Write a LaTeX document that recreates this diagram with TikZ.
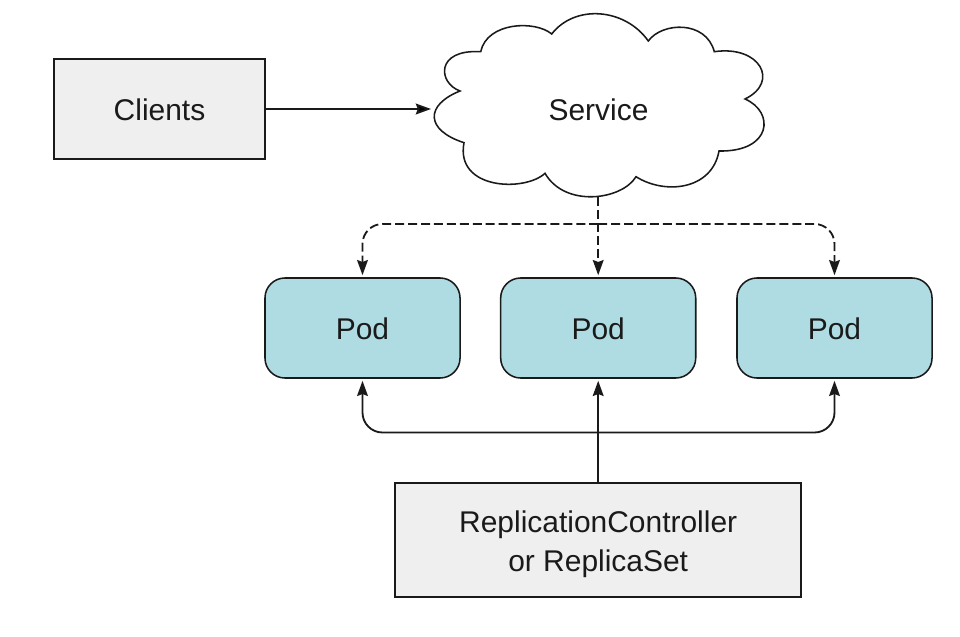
\documentclass[tikz,border=0pt]{standalone}
\usepackage{fontspec}
\setmainfont{Liberation Sans}
\usetikzlibrary{arrows.meta}
\definecolor{boxgray}{HTML}{EFEFEF}
\definecolor{podblue}{HTML}{AEDCE2}
\definecolor{inkblack}{HTML}{1A1A1A}
\tikzset{
    label text/.style={text=inkblack, font=\fontsize{21.3}{27.7}\selectfont, inner sep=0pt, align=center},
    gray box/.style={label text, draw=inkblack, line width=1.1pt, fill=boxgray},
    pod box/.style={label text, draw=inkblack, line width=1.1pt, fill=podblue, rounded corners=0.5cm, minimum width=4.875cm, minimum height=2.5cm, text height=17pt},
    flow/.style={draw=inkblack, line width=1.3pt, -{Stealth[length=3.8mm, width=2.7mm, inset=0.5mm]}, shorten >=0.05cm},
    dash flow/.style={flow, dash pattern=on 6.4pt off 2.8pt},
}
\begin{document}
\begin{tikzpicture}[x=0.025cm, y=-0.025cm]
    \useasboundingbox (0, 0) rectangle (960, 637);

    \draw[draw=inkblack, line width=1.1pt, fill=white, line join=miter]
        (460, 91) .. controls (438, 83) and (435, 49) .. (480.7, 51.7)
        .. controls (487, 22) and (535, 20) .. (551.7, 34)
        .. controls (575, 4) and (625, 8) .. (648.3, 41)
        .. controls (662, 22) and (706, 20) .. (714.3, 51.7)
        .. controls (760, 45) and (780, 82) .. (745, 99)
        .. controls (775, 112) and (772, 152) .. (719, 151)
        .. controls (712, 190) and (665, 195) .. (636, 176.7)
        .. controls (622, 200) and (565, 208) .. (545, 173.3)
        .. controls (525, 192) and (455, 190) .. (464, 142.7)
        .. controls (425, 130) and (425, 105) .. (460, 91) -- cycle;

    \node[label text] (service) at (598.5, 110) {Service};
    \coordinate (cloudwest) at (433, 109);
    \coordinate (cloudsouth) at (598.2, 197);

    \node[gray box, minimum width=5.275cm, minimum height=2.5cm, text height=17pt] (clients) at (159.5, 109) {Clients};

    \node[pod box] (pod1) at (362.5, 328) {Pod};
    \node[pod box] (pod2) at (598.2, 328) {Pod};
    \node[pod box] (pod3) at (834.5, 328) {Pod};

    \node[gray box, minimum width=10.15cm, minimum height=2.85cm] (rc) at (598.2, 540) {\rule{0pt}{21.2pt}ReplicationController\\or ReplicaSet};

    \coordinate (dashbus) at (598.2, 224);
    \coordinate (rcbus) at (598.2, 432.5);

    \draw[flow] (clients) edge (cloudwest);

    \draw[dash flow] (cloudsouth) -- (pod2);
    \draw[dash flow, rounded corners=0.5cm] (dashbus) -| (pod1);
    \draw[dash flow, rounded corners=0.5cm] (dashbus) -| (pod3);

    \draw[flow] (rc) -- (pod2);
    \draw[flow, rounded corners=0.5cm] (rcbus) -| (pod1);
    \draw[flow, rounded corners=0.5cm] (rcbus) -| (pod3);
\end{tikzpicture}
\end{document}
